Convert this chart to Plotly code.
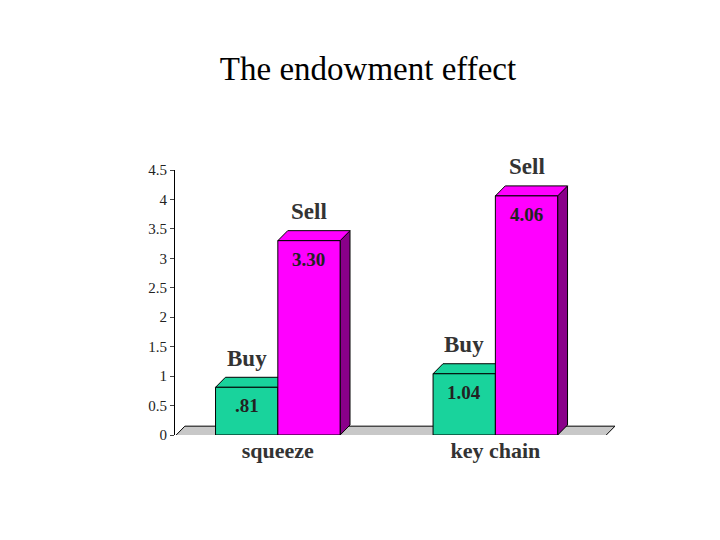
import plotly.graph_objects as go

categories = ["squeeze", "key chain"]
buy = [0.81, 1.04]
sell = [3.30, 4.06]
buy_labels = [".81", "1.04"]
sell_labels = ["3.30", "4.06"]

centers = [0.99, 3.19]
w = 0.63
dx, dy = 0.1, 0.17

green, green_side = "#19d39c", "#0a8a63"
pink, pink_side = "#ff00ff", "#8a008a"

fig = go.Figure()


def box3d(x0, h, face, side, name):
    x1 = x0 + w
    # side
    fig.add_trace(go.Scatter(x=[x1, x1 + dx, x1 + dx, x1, x1], y=[0, dy, h + dy, h, 0],
                             fill="toself", fillcolor=side, mode="lines",
                             line=dict(color="black", width=1), hoverinfo="skip", showlegend=False))
    # top
    fig.add_trace(go.Scatter(x=[x0, x0 + dx, x1 + dx, x1, x0], y=[h, h + dy, h + dy, h, h],
                             fill="toself", fillcolor=face, mode="lines",
                             line=dict(color="black", width=1), hoverinfo="skip", showlegend=False))
    # front
    fig.add_trace(go.Scatter(x=[x0, x1, x1, x0, x0], y=[0, 0, h, h, 0],
                             fill="toself", fillcolor=face, mode="lines",
                             line=dict(color="black", width=1), name=name, showlegend=False))


# floor slab
fig.add_trace(go.Scatter(x=[-0.05, 4.3, 4.4, 0.05, -0.05], y=[-0.02, -0.02, 0.15, 0.15, -0.02],
                         fill="toself", fillcolor="#c8c8c8", mode="lines",
                         line=dict(color="black", width=1), hoverinfo="skip", showlegend=False))

for i, c in enumerate(centers):
    box3d(c - w, buy[i], green, green_side, "Buy")
    box3d(c, sell[i], pink, pink_side, "Sell")
    fig.add_annotation(x=c - w / 2, y=buy[i] - 0.1, text="<b>" + buy_labels[i] + "</b>", showarrow=False,
                       yanchor="top", font=dict(family="Liberation Serif", size=19, color="#222"))
    fig.add_annotation(x=c + w / 2, y=sell[i] - 0.1, text="<b>" + sell_labels[i] + "</b>", showarrow=False,
                       yanchor="top", font=dict(family="Liberation Serif", size=19, color="#222"))
    fig.add_annotation(x=c - w / 2, y=buy[i] + 0.25, text="<b>Buy</b>", showarrow=False,
                       yanchor="bottom", font=dict(family="Liberation Serif", size=23, color="#333"))
    fig.add_annotation(x=c + w / 2, y=sell[i] + 0.25, text="<b>Sell</b>", showarrow=False,
                       yanchor="bottom", font=dict(family="Liberation Serif", size=23, color="#333"))

fig.update_layout(
    width=720, height=540,
    paper_bgcolor="white", plot_bgcolor="white",
    margin=dict(l=167, r=113, t=162, b=113),
    title=dict(text="The endowment effect", x=0.5, y=0.91, xanchor="center",
               font=dict(family="Liberation Serif", size=33, color="black")),
    xaxis=dict(range=[-0.05, 4.4], tickvals=[c for c in centers], ticktext=["<b>" + t + "</b>" for t in categories],
               showgrid=False, zeroline=False, showline=False, ticks="",
               tickfont=dict(family="Liberation Serif", size=22, color="#333")),
    yaxis=dict(range=[0, 4.5], dtick=0.5, showgrid=False, zeroline=False, showline=True,
               linecolor="black", ticks="outside", ticklen=4,
               tickfont=dict(family="Liberation Serif", size=15, color="#222")),
)

fig.write_html("out.html")
